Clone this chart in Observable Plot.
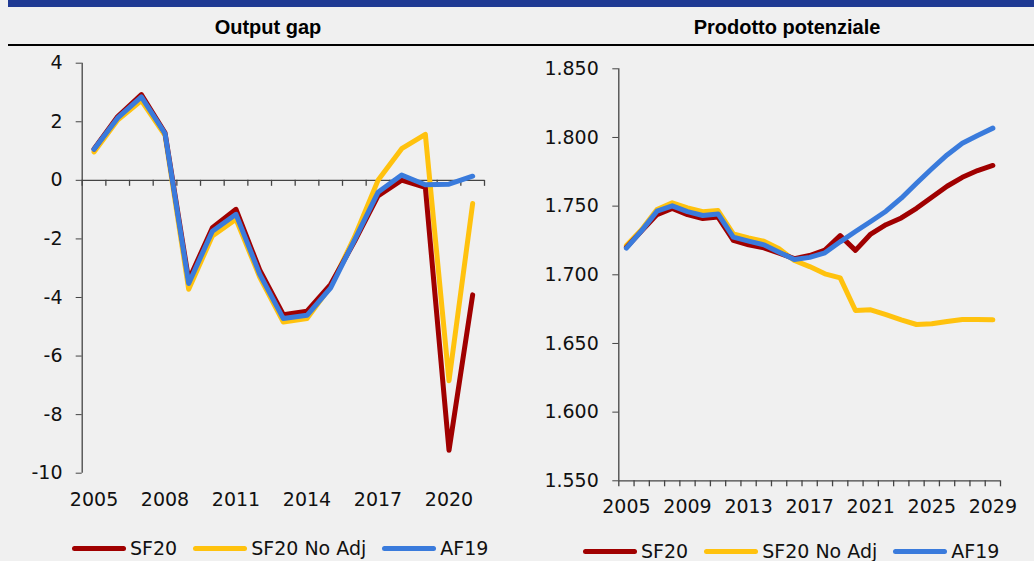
<!DOCTYPE html>
<html><head><meta charset="utf-8">
<script src="https://cdn.jsdelivr.net/npm/d3@7"></script>
<script src="https://cdn.jsdelivr.net/npm/@observablehq/plot@0.6"></script>
<style>
body{margin:0;background:#f0f0f0;}
#wrap{position:relative;width:1034px;height:561px;overflow:hidden;background:#f0f0f0;font-family:"DejaVu Sans",sans-serif;color:#111;}
.band{position:absolute;left:8px;top:0;width:1026px;height:7px;background:#1f3a93;}
.rule{position:absolute;left:8px;top:44px;width:1026px;height:2px;background:#000;}
.title{position:absolute;top:14px;font-family:"Liberation Sans",Arial,sans-serif;font-weight:bold;font-size:20px;transform:translateX(-50%);white-space:nowrap;line-height:26px;color:#000}
.chart{position:absolute;top:50px}
.legend{position:absolute;display:flex;align-items:center;font-size:19px;white-space:nowrap;line-height:22px;color:#111}
.sw{width:54px;height:5px;border-radius:3px;margin-right:4px}
.item{display:flex;align-items:center;margin-right:16px}
</style></head>
<body>
<div id="wrap">
  <div class="band"></div>
  <div class="rule"></div>
  <div class="title" style="left:268px">Output gap</div>
  <div class="title" style="left:787px">Prodotto potenziale</div>
  <div class="chart" id="left" style="left:0"></div>
  <div class="chart" id="right" style="left:515px"></div>
  <div class="legend" id="legL" style="left:72px;top:537px"></div>
  <div class="legend" id="legR" style="left:583px;top:540px"></div>
</div>
<script>
// ---- data ----
const seriesNames = ["SF20", "SF20 No Adj", "AF19"];
const seriesColors = ["#a00000", "#ffc20e", "#3a7bdc"];

const gapYears = [2005,2006,2007,2008,2009,2010,2011,2012,2013,2014,2015,2016,2017,2018,2019,2020,2021];
const gapSF20  = [1.07, 2.18, 2.93, 1.62, -3.40, -1.62, -0.99, -3.06, -4.59, -4.47, -3.55, -2.10, -0.53, 0.01, -0.24, -9.22, -3.91];
const gapNoAdj = [0.97, 2.06, 2.72, 1.54, -3.72, -1.90, -1.33, -3.30, -4.84, -4.72, -3.62, -1.95, 0.00, 1.08, 1.57, -6.84, -0.79];
const gapAF19  = [1.06, 2.13, 2.85, 1.60, -3.52, -1.74, -1.16, -3.20, -4.72, -4.61, -3.67, -2.05, -0.41, 0.18, -0.15, -0.13, 0.14];
const gapTicks = [-10, -8, -6, -4, -2, 0, 2, 4];
const gapLabelYears = [2005, 2008, 2011, 2014, 2017, 2020];

const potYears = [2005,2006,2007,2008,2009,2010,2011,2012,2013,2014,2015,2016,2017,2018,2019,2020,2021,2022,2023,2024,2025,2026,2027,2028,2029];
const potSF20  = [1720, 1732, 1743.8, 1748.4, 1743.8, 1741, 1742, 1725, 1721.8, 1719.6, 1715.8, 1711.8, 1714, 1718, 1728.5, 1717.8, 1729.7, 1736.5, 1741.4, 1748.4, 1756.5, 1764.5, 1771, 1775.9, 1779.6];
const potNoAdj = [1721.3, 1733, 1747.5, 1752.4, 1748.7, 1746, 1746.8, 1729.8, 1726.9, 1724.5, 1718.9, 1710.4, 1706, 1700.7, 1697.8, 1674, 1674.5, 1671, 1667.2, 1663.8, 1664.3, 1666, 1667.5, 1667.5, 1667.2];
const potAF19  = [1719.4, 1732.2, 1746.3, 1750.2, 1746, 1743.2, 1744.3, 1727.4, 1724.5, 1721.8, 1716.5, 1711.2, 1712.7, 1716, 1724, 1731.5, 1738.8, 1746.3, 1755.8, 1766.7, 1777.2, 1787.3, 1795.8, 1801.5, 1806.8];
const potTicks = [1550, 1600, 1650, 1700, 1750, 1800, 1850];
const potLabelYears = [2005, 2009, 2013, 2017, 2021, 2025, 2029];

// ---- helpers ----
const axisColor = "#444";
const textColor = "#111";
const itFmt = d3.formatLocale({decimal: ",", thousands: ".", grouping: [3], currency: ["€", ""]}).format(",.0f");

function rows(years, arrays) {
  const out = [];
  // draw order: No Adj, SF20, AF19 (blue on top)
  [1, 0, 2].forEach(k => years.forEach((yr, i) => out.push({year: yr, value: arrays[k][i], series: seriesNames[k]})));
  return out;
}
function bounds(years) {
  return years.map(y => y - 0.5).concat([years[years.length - 1] + 0.5]);
}
const lineOpts = {x: "year", y: "value", z: "series", stroke: "series", strokeWidth: 5, strokeLinejoin: "round", strokeLinecap: "round"};
const colorScale = {domain: seriesNames, range: seriesColors};
const baseStyle = {background: "transparent", fontFamily: "DejaVu Sans, sans-serif", fontSize: "19px", color: textColor, overflow: "visible"};

// ---- left: output gap ----
const gb = bounds(gapYears);
const leftPlot = Plot.plot({
  width: 515, height: 480,
  marginLeft: 81.7, marginRight: 31, marginTop: 12.7, marginBottom: 57.3,
  x: {domain: [gb[0], gb[gb.length - 1]], axis: null},
  y: {domain: [-10, 4], axis: null},
  color: colorScale,
  style: baseStyle,
  marks: [
    Plot.ruleY([0], {stroke: axisColor, strokeWidth: 1.3}),
    Plot.ruleX(gb, {x: d => d, y1: 0, y2: 0, insetBottom: -6, stroke: axisColor, strokeWidth: 1.3}),
    Plot.ruleX([gb[0]], {stroke: axisColor, strokeWidth: 1.3}),
    Plot.axisY({ticks: gapTicks, label: null, tickSize: 6, tickPadding: 13.7, stroke: axisColor, fill: textColor, fontSize: 19, tickFormat: d => String(d).replace("−", "-")}),
    Plot.text(gapLabelYears, {x: d => d, y: -10, dy: 26.5, text: d => String(d), fill: textColor, fontSize: 19}),
    Plot.line(rows(gapYears, [gapSF20, gapNoAdj, gapAF19]), lineOpts)
  ]
});
document.getElementById("left").append(leftPlot);

// ---- right: prodotto potenziale ----
const pb = bounds(potYears);
const rightPlot = Plot.plot({
  width: 519, height: 480,
  marginLeft: 103.3, marginRight: 34, marginTop: 18.3, marginBottom: 49.7,
  x: {domain: [pb[0], pb[pb.length - 1]], axis: null},
  y: {domain: [1550, 1850], axis: null},
  color: colorScale,
  style: baseStyle,
  marks: [
    Plot.ruleY([1550], {stroke: axisColor, strokeWidth: 1.3}),
    Plot.ruleX(pb, {x: d => d, y1: 1550, y2: 1550, insetBottom: -6, stroke: axisColor, strokeWidth: 1.3}),
    Plot.ruleX([pb[0]], {stroke: axisColor, strokeWidth: 1.3}),
    Plot.axisY({ticks: potTicks, label: null, tickSize: 6, tickPadding: 14, stroke: axisColor, fill: textColor, fontSize: 19, tickFormat: itFmt}),
    Plot.text(potLabelYears, {x: d => d, y: 1550, dy: 26, text: d => String(d), fill: textColor, fontSize: 19}),
    Plot.line(rows(potYears, [potSF20, potNoAdj, potAF19]), lineOpts)
  ]
});
document.getElementById("right").append(rightPlot);

// ---- legends ----
function legend(id) {
  const el = document.getElementById(id);
  seriesNames.forEach((name, i) => {
    const item = document.createElement("div");
    item.className = "item";
    const sw = document.createElement("div");
    sw.className = "sw";
    sw.style.background = seriesColors[i];
    const t = document.createElement("span");
    t.textContent = name;
    item.append(sw, t);
    el.append(item);
  });
}
legend("legL");
legend("legR");
</script>
</body></html>
